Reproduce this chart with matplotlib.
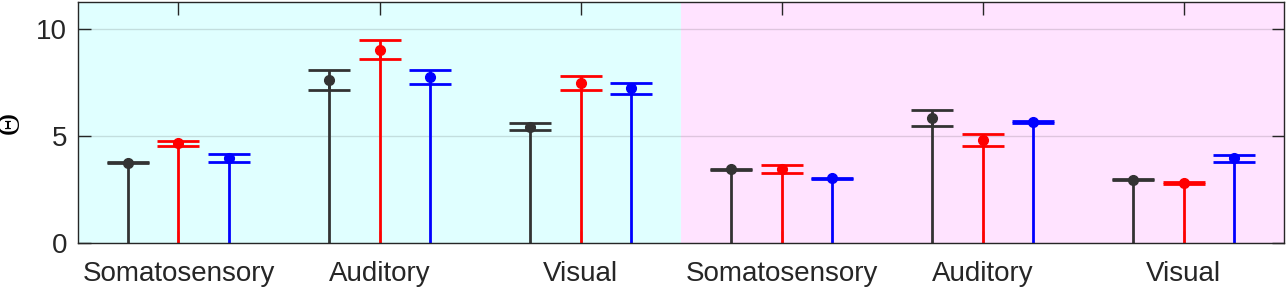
import matplotlib.pyplot as plt
import numpy as np

# categories along the x axis (two blocks of three)
categories = ['Somatosensory', 'Auditory', 'Visual',
              'Somatosensory', 'Auditory', 'Visual']

# values and error bounds for the three series (black, red, blue)
black_vals = [3.74, 7.62, 5.42, 3.44, 5.84, 2.96]
black_low = [3.72, 7.15, 5.27, 3.42, 5.45, 2.94]
black_high = [3.76, 8.07, 5.61, 3.46, 6.20, 2.98]

red_vals = [4.66, 9.02, 7.46, 3.44, 4.81, 2.79]
red_low = [4.53, 8.58, 7.13, 3.26, 4.53, 2.76]
red_high = [4.75, 9.47, 7.79, 3.63, 5.08, 2.83]

blue_vals = [3.99, 7.74, 7.23, 3.02, 5.64, 3.97]
blue_low = [3.80, 7.42, 6.95, 3.00, 5.60, 3.80]
blue_high = [4.16, 8.07, 7.48, 3.04, 5.69, 4.11]

series = [
    (black_vals, black_low, black_high, '#333333', -0.25),
    (red_vals, red_low, red_high, '#ff0000', 0.0),
    (blue_vals, blue_low, blue_high, '#0000ff', 0.25),
]

plt.rcParams['font.family'] = ['Liberation Sans', 'DejaVu Sans']

fig = plt.figure(figsize=(12.87, 2.87), dpi=100)
ax = fig.add_axes([0.0606, 0.1533, 0.9371, 0.8397])

x = np.arange(1, len(categories) + 1)

# shaded backgrounds for the two blocks
ax.axvspan(0.5, 3.5, color='#e0ffff', zorder=0, lw=0)
ax.axvspan(3.5, 6.5, color='#ffe3ff', zorder=0, lw=0)

for vals, low, high, col, off in series:
    vals = np.array(vals)
    xs = x + off
    ax.vlines(xs, 0, vals, color=col, lw=2, zorder=3)
    err = [vals - np.array(low), np.array(high) - vals]
    ax.errorbar(xs, vals, yerr=err, fmt='o', color=col, ms=7,
                capsize=15, capthick=2, elinewidth=2, zorder=4)

ax.set_xlim(0.5, 6.5)
ax.set_ylim(0, 11.25)
ax.set_yticks([0, 5, 10])
ax.set_xticks(x)
ax.set_xticklabels(categories)
ax.yaxis.grid(True, color='#000000', alpha=0.13, lw=1)
ax.set_axisbelow(True)

ax.tick_params(direction='in', length=9, width=1, color='#262626',
               labelsize=20, labelcolor='#262626', top=True, right=True)
ax.tick_params(axis='x', pad=13)
ax.tick_params(axis='y', pad=8)
for s in ax.spines.values():
    s.set_color('#262626')
    s.set_linewidth(1)
    s.set_zorder(5)

ax.set_ylabel('Θ', fontsize=22, family=['Liberation Serif', 'DejaVu Serif'],
              labelpad=7)

fig.savefig('out.png', dpi=100)
